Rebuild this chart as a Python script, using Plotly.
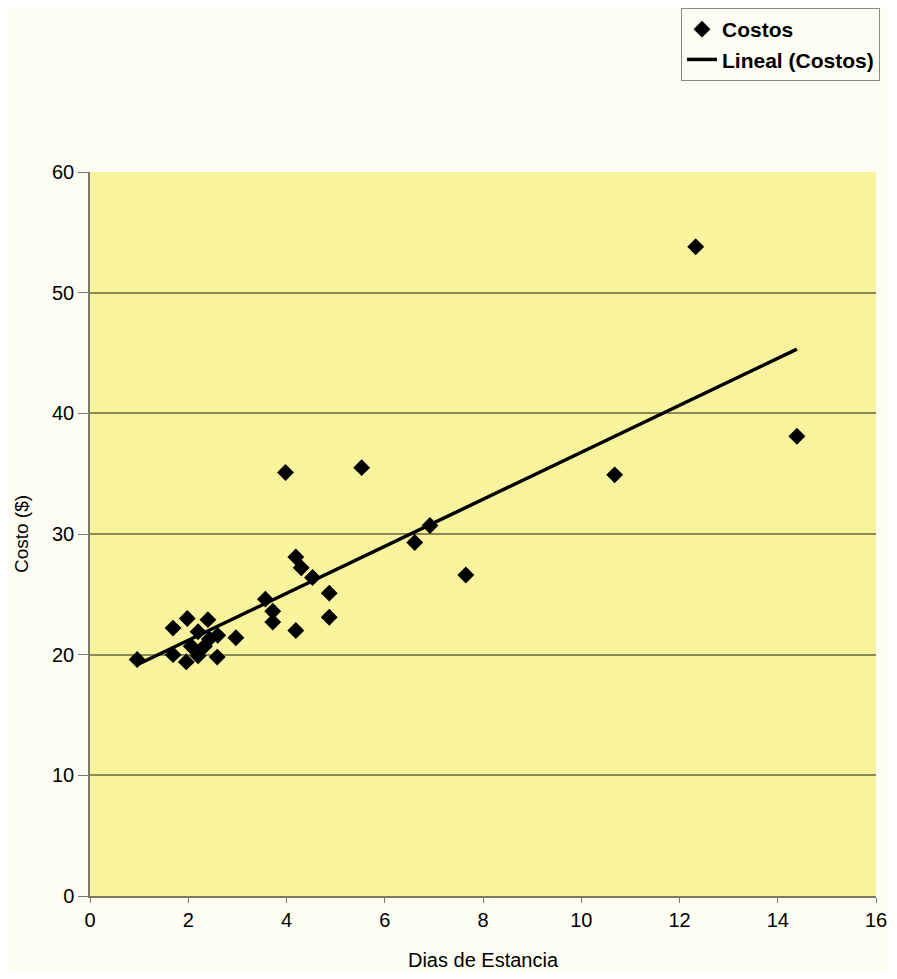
import numpy as np
import plotly.graph_objects as go

dias = [0.96, 1.69, 1.98, 2.40, 1.69, 1.96, 2.20, 2.20, 2.06, 2.43, 2.60, 2.59, 2.97,
        2.33, 3.57, 3.72, 3.72, 3.98, 4.19, 4.30, 4.19, 4.53, 4.87, 4.87, 5.53,
        6.61, 6.92, 7.65, 10.68, 12.33, 14.39]
costos = [19.6, 22.2, 23.0, 22.9, 20.0, 19.4, 19.9, 21.9, 20.7, 21.3, 21.6, 19.8, 21.4,
          20.7, 24.6, 23.6, 22.7, 35.1, 28.1, 27.2, 22.0, 26.4, 25.1, 23.1, 35.5,
          29.3, 30.7, 26.6, 34.9, 53.8, 38.1]

x_ticks = [0, 2, 4, 6, 8, 10, 12, 14, 16]
y_ticks = [0, 10, 20, 30, 40, 50, 60]

slope, intercept = np.polyfit(dias, costos, 1)
xs = np.array([min(dias), max(dias)])
ys = slope * xs + intercept

font = "Liberation Sans, Arial, sans-serif"
W, H = 881, 963

fig = go.Figure()
fig.add_trace(go.Scatter(x=dias, y=costos, mode="markers", name="Costos",
                         legendgroup="a",
                         marker=dict(symbol="diamond", size=13, color="black")))
fig.add_trace(go.Scatter(x=xs, y=ys, mode="lines", name="Lineal (Costos)",
                         legendgroup="b",
                         line=dict(color="black", width=3.5)))

fig.update_layout(
    width=W, height=H,
    margin=dict(l=82, r=13, t=164, b=75, autoexpand=False),
    paper_bgcolor="#fdfdf3",
    plot_bgcolor="#f8f49e",
    font=dict(family=font, size=20, color="black"),
    showlegend=True,
    legend=dict(xref="container", yref="container",
                x=872 / W, xanchor="right", y=1.0, yanchor="top",
                bgcolor="#fdfdf3", bordercolor="#888888", borderwidth=1,
                font=dict(family=font, size=21, weight="bold"),
                traceorder="grouped", tracegroupgap=0,
                itemwidth=30),
    xaxis=dict(range=[0, 16], tickvals=x_ticks, showgrid=False, zeroline=False,
               showline=True, linecolor="#7a7a66", linewidth=1.5, mirror=False,
               ticks="outside", ticklen=5, tickcolor="#7a7a66",
               ticklabeloverflow="allow",
               title=dict(text="Dias de Estancia", font=dict(size=20), standoff=24),
               tickfont=dict(size=20)),
    yaxis=dict(range=[0, 60], tickvals=y_ticks, showgrid=True, gridcolor="#8a8a55",
               gridwidth=1.5, zeroline=False,
               showline=True, linecolor="#7a7a66", linewidth=1.5,
               ticks="outside", ticklen=10, tickcolor="#7a7a66",
               title=dict(text="Costo ($)", font=dict(size=19), standoff=18),
               tickfont=dict(size=20)),
)

fig.write_html("out.html")
